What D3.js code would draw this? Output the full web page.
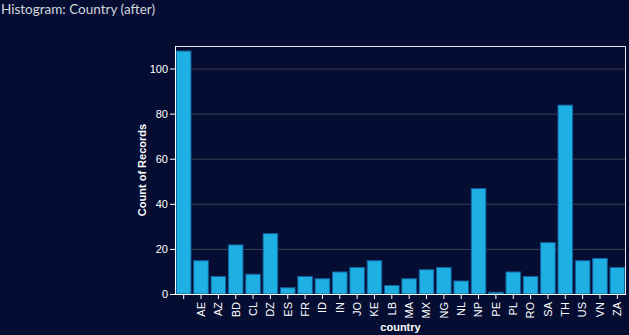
<!DOCTYPE html>
<html><head><meta charset="utf-8">
<script src="https://cdn.jsdelivr.net/npm/d3@7"></script>
<style>
html,body{margin:0;padding:0;background:#050d33;}
svg{display:block;}
</style></head>
<body>
<svg id="c" width="629" height="335"></svg>
<script>
const categories = ["", "AE", "AZ", "BD", "CL", "DZ", "ES", "FR", "ID", "IN", "JO", "KE", "LB", "MA", "MX", "NG", "NL", "NP", "PE", "PL", "RO", "SA", "TH", "US", "VN", "ZA"];
const counts = [108, 15, 8, 22, 9, 27, 3, 8, 7, 10, 12, 15, 4, 7, 11, 12, 6, 47, 1, 10, 8, 23, 84, 15, 16, 12];
const yTicks = [0, 20, 40, 60, 80, 100];
const titleText = "Histogram: Country (after)";
const xTitle = "country";
const yTitle = "Count of Records";

const svg = d3.select("#c");
const W = 629, H = 335;
const m = {left: 175, top: 46, right: 3, bottom: 41};
const iw = W - m.left - m.right, ih = H - m.top - m.bottom;

svg.append("rect").attr("width", W).attr("height", H).attr("fill", "#050d33");

svg.append("text").attr("x", 1).attr("y", 14)
  .attr("fill", "#d2d6de").attr("font-family", "Lato, sans-serif")
  .attr("font-size", 13.5).text(titleText);

const x = d3.scaleBand().domain(categories).range([0, iw]).paddingInner(0.1).paddingOuter(0.05);
const y = d3.scaleLinear().domain([0, 110]).range([ih, 0]);

const g = svg.append("g").attr("transform", `translate(${m.left},${m.top})`);

// grid
g.append("g").selectAll("line").data(yTicks.filter(d => d > 0)).join("line")
  .attr("x1", 0).attr("x2", iw).attr("y1", d => y(d) + 0.5).attr("y2", d => y(d) + 0.5)
  .attr("stroke", "#3a3f50").attr("stroke-width", 1);

// bars
g.append("g").selectAll("rect").data(categories).join("rect")
  .attr("x", d => x(d) + 0.5)
  .attr("y", (d, i) => y(counts[i]) + 0.5)
  .attr("width", x.bandwidth() - 1)
  .attr("height", (d, i) => Math.max(0, y(0) - y(counts[i]) - 0.5))
  .attr("fill", "#1fb0e3").attr("stroke", "#13609a").attr("stroke-width", 1);

// frame top & right
g.append("path").attr("d", `M0.5,${ih}V0.5H${iw - 0.5}V${ih}`)
  .attr("fill", "none").attr("stroke", "#e8e8e8").attr("stroke-width", 1);

// y axis
const ya = g.append("g").call(d3.axisLeft(y).tickValues(yTicks).tickSize(5).tickPadding(2));
ya.select(".domain").attr("stroke", "#ffffff").attr("d", `M0.5,${ih}V0`);
ya.selectAll(".tick line").attr("stroke", "#ffffff");
ya.selectAll(".tick text").attr("fill", "#ffffff").attr("font-family", "'Liberation Sans', Arial, sans-serif").attr("font-size", 11);

// x axis
const xa = g.append("g").attr("transform", `translate(0,${ih})`)
  .call(d3.axisBottom(x).tickSize(5).tickPadding(2));
xa.select(".domain").attr("stroke", "#ffffff").attr("d", `M0,0.5H${iw}`);
xa.selectAll(".tick line").attr("stroke", "#ffffff");
xa.selectAll(".tick text").attr("fill", "#ffffff")
  .attr("font-family", "'Liberation Sans', Arial, sans-serif").attr("font-size", 11)
  .attr("transform", "rotate(-90)").attr("text-anchor", "end")
  .attr("x", -8).attr("y", 0).attr("dy", "0.35em");

// axis titles
svg.append("text").attr("x", m.left + iw / 2).attr("y", 331)
  .attr("text-anchor", "middle").attr("fill", "#ffffff")
  .attr("font-family", "'Liberation Sans', Arial, sans-serif").attr("font-size", 11).attr("font-weight", "bold")
  .text(xTitle);
svg.append("text").attr("transform", `translate(146,${m.top + ih / 2}) rotate(-90)`)
  .attr("text-anchor", "middle").attr("fill", "#ffffff")
  .attr("font-family", "'Liberation Sans', Arial, sans-serif").attr("font-size", 11).attr("font-weight", "bold")
  .text(yTitle);
</script>
</body></html>
